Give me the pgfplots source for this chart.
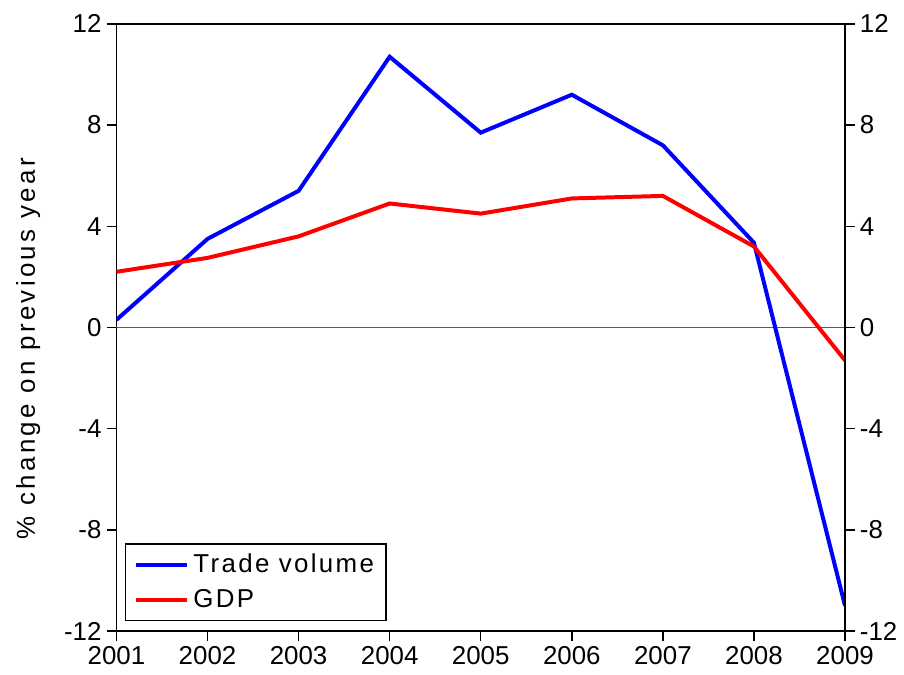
\documentclass[border=0pt]{standalone}
\usepackage{pgfplots}
\pgfplotsset{compat=1.18}
\usepackage{fontspec}
\setmainfont{Liberation Sans}
\newfontfamily\spaced[LetterSpace=13]{Liberation Sans}
\newfontfamily\legfont[LetterSpace=9]{Liberation Sans}
\definecolor{gridgray}{RGB}{90,90,90}

\pgfplotsset{
  common/.style={
    scale only axis,
    width=366pt, height=305pt,
    xmin=2001, xmax=2009,
    ymin=-12, ymax=12,
    ytick={-12,-8,-4,0,4,8,12},
    yticklabels={-12,-8,-4,0,4,8,12},
    tick align=outside,
    major tick length=5pt,
    axis line style={line width=0.7pt, black},
    tick style={line width=0.7pt, black},
    tick label style={font=\fontsize{13}{15}\selectfont},
  }
}

\begin{document}
\begin{tikzpicture}
\begin{axis}[
  common,
  xtick={2001,2002,2003,2004,2005,2006,2007,2008,2009},
  xticklabels={2001,2002,2003,2004,2005,2006,2007,2008,2009},
  xtick pos=bottom,
  ytick pos=left,
  xticklabel style={yshift=1pt},
  yticklabel style={xshift=1pt},
  ylabel={\spaced\% change on previous year},
  ylabel style={font=\fontsize{13}{15}\selectfont, at={(axis description cs:-0.121,0.465)}, anchor=center},
  legend style={at={(0.012,0.016)}, anchor=south west, draw=black,
    line width=0.6pt, font=\legfont\fontsize{13}{15}\selectfont,
    inner xsep=4pt, inner ysep=3pt, row sep=3pt, cells={anchor=west}},
  legend image code/.code={\draw[#1, line width=2pt] (0pt,0pt) -- (26pt,0pt);},
]
\addplot[gridgray, line width=0.6pt, forget plot] coordinates {(2001,0) (2009,0)};
\addplot[blue, line width=2pt] coordinates {
  (2001,0.3) (2002,3.5) (2003,5.4) (2004,10.7) (2005,7.7)
  (2006,9.2) (2007,7.2) (2008,3.35) (2009,-11.0)
};
\addlegendentry{Trade volume}
\addplot[red, line width=2pt] coordinates {
  (2001,2.2) (2002,2.75) (2003,3.6) (2004,4.9) (2005,4.5)
  (2006,5.1) (2007,5.2) (2008,3.2) (2009,-1.3)
};
\addlegendentry{GDP}
\end{axis}
\begin{axis}[
  common,
  axis x line=none,
  axis y line*=right,
  yticklabel style={xshift=-1pt},
]
\end{axis}
\path ([xshift=-58.5pt,yshift=-22pt]current axis.south west);
\path ([xshift=27.5pt,yshift=12pt]current axis.north east);
\end{tikzpicture}
\end{document}
